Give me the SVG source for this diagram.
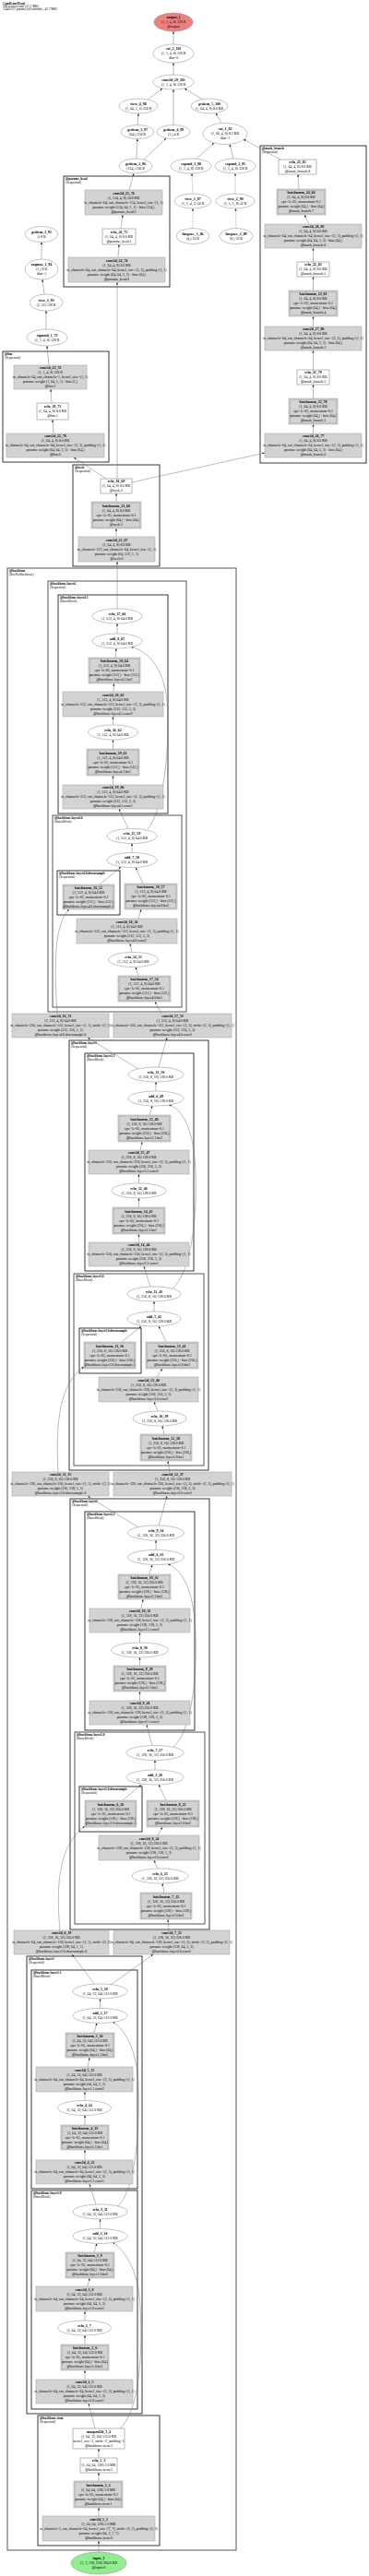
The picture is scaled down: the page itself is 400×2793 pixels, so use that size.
<svg xmlns="http://www.w3.org/2000/svg" width="400" height="2793" viewBox="0 0 400 2793">
<style>
text{font-family:"Liberation Serif","Times New Roman",serif;font-size:3.9px;fill:#000}
.t{text-anchor:middle}
.b{font-weight:bold}
.h{font-size:3.5px}
.el{fill:#fff;stroke:#888;stroke-width:0.5}
.m{fill:#d3d3d3;stroke:#aaa;stroke-width:0.6}
.bn{fill:none;stroke:#aaa;stroke-width:0.6}
.w{fill:#fff;stroke:#888;stroke-width:0.6}
.cl{fill:none;stroke:#222;stroke-width:0.9}
.cg{fill:none;stroke:#555;stroke-width:1}
.e{fill:none;stroke:#666;stroke-width:0.45;marker-end:url(#a)}
.d{stroke-dasharray:1.2,0.9}
</style>
<defs>
<marker id="a" markerUnits="userSpaceOnUse" markerWidth="3" markerHeight="3" refX="2.6" refY="1.1" orient="auto"><path d="M0,0 L2.6,1.1 L0,2.2 z" fill="#222"/></marker>
</defs>
<rect width="400" height="2793" fill="#fff"/>
<text x="3" y="4.5" class="h b">CondLaneHead</text>
<text x="3" y="7.9" class="h">388 tensors total (21.1 MB)</text>
<text x="3" y="11.3" class="h">11465317 params (all trainable, 43.7 MB)</text>

<g id="clusters">
<rect class="cl" x="69" y="191" width="115" height="120"/><text x="71" y="194.8" class="h b">@params_head</text><text x="71" y="198.6" class="h">(Sequential)</text>
<rect class="cl" x="3" y="381" width="115" height="120"/><text x="5" y="384.8" class="h b">@hm</text><text x="5" y="388.6" class="h">(Sequential)</text>
<rect class="cl" x="282" y="158" width="115" height="344"/><text x="284" y="161.8" class="h b">@mask_branch</text><text x="284" y="165.6" class="h">(Sequential)</text>
<rect class="cl" x="79" y="504" width="94" height="110"/><text x="81" y="507.8" class="h b">@neck</text><text x="81" y="511.6" class="h">(Sequential)</text>
<rect class="cg" x="8" y="616" width="248" height="2149"/><text x="10" y="619.8" class="h b">@backbone</text><text x="10" y="623.6" class="h">(ResNetBackbone)</text>
<rect class="cg" x="52" y="630" width="150" height="467"/><text x="54" y="633.8" class="h b">@backbone.layer4</text><text x="54" y="637.6" class="h">(Sequential)</text>
<rect class="cl" x="63" y="645" width="119" height="237"/><text x="65" y="648.8" class="h b">@backbone.layer4.1</text><text x="65" y="652.6" class="h">(BasicBlock)</text>
<rect class="cg" x="57" y="884" width="140" height="208"/><text x="59" y="887.8" class="h b">@backbone.layer4.0</text><text x="59" y="891.6" class="h">(BasicBlock)</text>
<rect class="cl" x="62" y="944" width="68" height="48"/><text x="64" y="947.8" class="h b">@backbone.layer4.0.downsample</text><text x="64" y="951.6" class="h">(Sequential)</text>
<rect class="cl" x="75" y="1128" width="151" height="466"/><text x="77" y="1131.8" class="h b">@backbone.layer3</text><text x="77" y="1135.6" class="h">(Sequential)</text>
<rect class="cl" x="92" y="1142" width="118" height="236"/><text x="94" y="1145.8" class="h b">@backbone.layer3.1</text><text x="94" y="1149.6" class="h">(BasicBlock)</text>
<rect class="cg" x="80" y="1381" width="141" height="208"/><text x="82" y="1384.8" class="h b">@backbone.layer3.0</text><text x="82" y="1388.6" class="h">(BasicBlock)</text>
<rect class="cl" x="86" y="1440" width="67" height="49"/><text x="88" y="1443.8" class="h b">@backbone.layer3.0.downsample</text><text x="88" y="1447.6" class="h">(Sequential)</text>
<rect class="cl" x="76" y="1625" width="151" height="467"/><text x="78" y="1628.8" class="h b">@backbone.layer2</text><text x="78" y="1632.6" class="h">(Sequential)</text>
<rect class="cl" x="92" y="1639" width="119" height="237"/><text x="94" y="1642.8" class="h b">@backbone.layer2.1</text><text x="94" y="1646.6" class="h">(BasicBlock)</text>
<rect class="cg" x="81" y="1878" width="141" height="208"/><text x="83" y="1881.8" class="h b">@backbone.layer2.0</text><text x="83" y="1885.6" class="h">(BasicBlock)</text>
<rect class="cl" x="86" y="1937" width="68" height="49"/><text x="88" y="1940.8" class="h b">@backbone.layer2.0.downsample</text><text x="88" y="1944.6" class="h">(Sequential)</text>
<rect class="cl" x="29" y="2121" width="125" height="496"/><text x="31" y="2124.8" class="h b">@backbone.layer1</text><text x="31" y="2128.6" class="h">(Sequential)</text>
<rect class="cl" x="34" y="2136" width="115" height="237"/><text x="36" y="2139.8" class="h b">@backbone.layer1.1</text><text x="36" y="2143.6" class="h">(BasicBlock)</text>
<rect class="cl" x="34" y="2375" width="115" height="237"/><text x="36" y="2378.8" class="h b">@backbone.layer1.0</text><text x="36" y="2382.6" class="h">(BasicBlock)</text>
<rect class="cl" x="41" y="2619" width="132" height="141"/><text x="43" y="2622.8" class="h b">@backbone.stem</text><text x="43" y="2626.6" class="h">(Sequential)</text>
</g>

<g id="edges">
<path class="e" d="M107,2767 L107,2755"/>
<path class="e" d="M107,2728 L107,2719"/>
<path class="e" d="M107,2690 L107,2681"/>
<path class="e" d="M107,2665 L107,2655"/>
<path class="e" d="M103,2633 L96,2606"/>
<path class="e" d="M130,2633 C150,2615 155,2560 152,2500 C150,2460 135,2440 122,2431"/>
<path class="e" d="M92,2580 L92,2570"/>
<path class="e" d="M92,2542 L92,2532"/>
<path class="e" d="M92,2516 L92,2506"/>
<path class="e" d="M95,2479 L97,2470"/>
<path class="e" d="M102,2442 L105,2432.5"/>
<path class="e" d="M108.5,2416.5 L108.5,2406"/>
<path class="e" d="M104,2390 L97,2368"/>
<path class="e" d="M128,2392 C145,2375 152,2320 150,2260 C148,2220 135,2200 122,2192"/>
<path class="e" d="M92,2342 L92,2331"/>
<path class="e" d="M92,2304 L92,2293.5"/>
<path class="e" d="M92,2277.5 L92,2268"/>
<path class="e" d="M95,2241 L97,2231"/>
<path class="e" d="M102,2204 L105,2193.5"/>
<path class="e" d="M108.5,2177.5 L108.5,2167"/>
<path class="e" d="M102,2151 L78,2119"/>
<path class="e" d="M120,2152 L166,2119"/>
<path class="e" d="M65,2093 C60,2040 65,2000 92,1980"/>
<path class="e" d="M183,2093 L182,2081"/>
<path class="e" d="M178,2052 L176,2042"/>
<path class="e" d="M171,2026 L167,2017"/>
<path class="e" d="M171,1990 L176,1981"/>
<path class="e" d="M180,1952 L172,1935"/>
<path class="e" d="M133,1952 L153,1935"/>
<path class="e" d="M168,1919 L168,1908.5"/>
<path class="e" d="M165,1892.5 L159,1870"/>
<path class="e" d="M188,1894 C205,1880 214,1830 212,1770 C210,1720 195,1700 182,1696"/>
<path class="e" d="M151.5,1844 L151.5,1834"/>
<path class="e" d="M151.5,1806 L151.5,1797"/>
<path class="e" d="M151.5,1781 L151.5,1770"/>
<path class="e" d="M153,1744 L155,1734"/>
<path class="e" d="M162,1707 L165,1696.5"/>
<path class="e" d="M169,1680.5 L169,1670"/>
<path class="e" d="M150,1656 L95,1622"/>
<path class="e" d="M172,1654 L181,1622"/>
<path class="e" d="M63,1596 C60,1540 65,1500 91,1482"/>
<path class="e" d="M184,1596 L182,1584"/>
<path class="e" d="M178,1555 L176,1546"/>
<path class="e" d="M171,1530 L167,1520"/>
<path class="e" d="M170,1493 L176,1484"/>
<path class="e" d="M180,1455 L172,1438"/>
<path class="e" d="M132,1455 L153,1438"/>
<path class="e" d="M167,1422 L167,1411"/>
<path class="e" d="M163,1395 L156,1373"/>
<path class="e" d="M187,1397 C205,1382 214,1330 212,1270 C210,1220 196,1202 183,1198"/>
<path class="e" d="M150.5,1347 L150.5,1338"/>
<path class="e" d="M150.5,1309 L150.5,1299"/>
<path class="e" d="M150.5,1283 L150.5,1273"/>
<path class="e" d="M152,1247 L154,1238"/>
<path class="e" d="M162,1209 L165,1199"/>
<path class="e" d="M169,1183 L169,1173"/>
<path class="e" d="M150,1159 L95,1125"/>
<path class="e" d="M172,1157 L181,1125"/>
<path class="e" d="M62,1099 C58,1040 60,1000 75,986"/>
<path class="e" d="M175,1099 L168,1086"/>
<path class="e" d="M150,1058 L147,1048.5"/>
<path class="e" d="M143,1032.5 L141,1023"/>
<path class="e" d="M150,996 L153,986"/>
<path class="e" d="M155,958 L147,940.5"/>
<path class="e" d="M108,959 L131,940"/>
<path class="e" d="M143,924.5 L143,914.5"/>
<path class="e" d="M139,898.5 L129,877"/>
<path class="e" d="M160,899 C178,880 185,800 181,760 C178,725 160,705 142,701.5"/>
<path class="e" d="M122.5,851 L122.5,841"/>
<path class="e" d="M122.5,812 L122.5,802"/>
<path class="e" d="M122.5,786 L122.5,777"/>
<path class="e" d="M123,750 L123.5,741"/>
<path class="e" d="M125,713 L126,703"/>
<path class="e" d="M127,687 L127,676"/>
<path class="e" d="M127,660 L127,609"/>
<path class="e" d="M126,582 L126,573"/>
<path class="e" d="M126,544 L126,535"/>
<path class="e" d="M115,519 L80,496"/>
<path class="e" d="M127,519 L127,306"/>
<path class="e" d="M143,523 L287,491"/>
<path class="e" d="M58,470 L57,455"/>
<path class="e" d="M56,437 L55,422"/>
<path class="e" d="M53,396 L51,375"/>
<path class="e" d="M50,357 L50,337"/>
<path class="e" d="M48,319 L46,303"/>
<path class="e" d="M45,281 L45,262.5"/>
<path class="e" d="M128,279 L129,265"/>
<path class="e" d="M131,248 L133,233"/>
<path class="e" d="M140,206 L145,188"/>
<path class="e" d="M148,172 L149,150.5"/>
<path class="e" d="M156,173 L180,150"/>
<path class="e" d="M149,135.5 L150,123"/>
<path class="e" d="M160,108 L176,96"/>
<path class="e" d="M188,135.5 L188,97"/>
<path class="e" d="M220,108 L200,96"/>
<path class="e" d="M240,133.5 L234,122.5"/>
<path class="e" d="M188,81 L188,68"/>
<path class="e" d="M188,48 L188,34"/>
<path class="e" d="M213,172 L232,155"/>
<path class="e" d="M253,172 L249,156.5"/>
<path class="e" d="M304,173 L264,151"/>
<path class="e d" d="M209,210 L208,188"/>
<path class="e d" d="M255,210 L255,188"/>
<path class="e d" d="M209,247.5 L209,226"/>
<path class="e d" d="M256,247.5 L255.5,226"/>
<path class="e" d="M339.5,470 L339.5,460"/>
<path class="e" d="M339.5,432 L339.5,417"/>
<path class="e" d="M339.5,401 L339.5,380"/>
<path class="e" d="M339.5,354 L339.5,343"/>
<path class="e" d="M339.5,315 L339.5,300"/>
<path class="e" d="M339.5,284 L339.5,269"/>
<path class="e" d="M335,243 L330,233"/>
<path class="e" d="M324,205 L323,189"/>
</g>

<g id="output_1"><ellipse cx="188" cy="24" rx="21" ry="10" fill="#f08080" stroke="#888" stroke-width="0.5"/><text class="t" x="188" y="20.3"><tspan class="b">output_1</tspan><tspan x="188" dy="5">(1, 1, 4, 8) 128 B</tspan><tspan x="188" dy="5">@output</tspan></text></g>
<g id="cat_2_102"><ellipse class="el" cx="188" cy="58" rx="22" ry="10"/><text class="t" x="188" y="54.3"><tspan class="b">cat_2_102</tspan><tspan x="188" dy="5">(1, 1, 4, 8) 128 B</tspan><tspan x="188" dy="5">dim=0</tspan></text></g>
<g id="conv2d_29_101"><ellipse class="el" cx="188" cy="89" rx="22" ry="8"/><text class="t" x="188" y="87.8"><tspan class="b">conv2d_29_101</tspan><tspan x="188" dy="5">(1, 1, 4, 8) 128 B</tspan></text></g>
<g id="view_4_98"><ellipse class="el" cx="150" cy="115" rx="21" ry="8"/><text class="t" x="150" y="113.8"><tspan class="b">view_4_98</tspan><tspan x="150" dy="5">(1, 64, 1, 1) 256 B</tspan></text></g>
<g id="getitem_5_100"><ellipse class="el" cx="227" cy="115" rx="20" ry="8"/><text class="t" x="227" y="113.8"><tspan class="b">getitem_5_100</tspan><tspan x="227" dy="5">(1, 64, 4, 8) 8.0 KB</tspan></text></g>
<g id="getitem_3_97"><ellipse class="el" cx="149" cy="143" rx="18" ry="7.5"/><text class="t" x="149" y="141.8"><tspan class="b">getitem_3_97</tspan><tspan x="149" dy="5">(64,) 256 B</tspan></text></g>
<g id="getitem_4_99"><ellipse class="el" cx="188" cy="143" rx="18" ry="7.5"/><text class="t" x="188" y="141.8"><tspan class="b">getitem_4_99</tspan><tspan x="188" dy="5">(1,) 4 B</tspan></text></g>
<g id="cat_1_92"><ellipse class="el" cx="244" cy="145" rx="24" ry="11.5"/><text class="t" x="244" y="141.3"><tspan class="b">cat_1_92</tspan><tspan x="244" dy="5">(1, 66, 4, 8) 8.2 KB</tspan><tspan x="244" dy="5">dim=1</tspan></text></g>
<g id="getitem_2_96"><ellipse class="el" cx="147" cy="180" rx="18" ry="8"/><text class="t" x="147" y="178.8"><tspan class="b">getitem_2_96</tspan><tspan x="147" dy="5">(134,) 536 B</tspan></text></g>
<g id="expand_1_88"><ellipse class="el" cx="207" cy="180" rx="22" ry="8"/><text class="t" x="207" y="178.8"><tspan class="b">expand_1_88</tspan><tspan x="207" dy="5">(1, 1, 4, 8) 128 B</tspan></text></g>
<g id="expand_2_91"><ellipse class="el" cx="255" cy="180" rx="22" ry="8"/><text class="t" x="255" y="178.8"><tspan class="b">expand_2_91</tspan><tspan x="255" dy="5">(1, 1, 4, 8) 128 B</tspan></text></g>
<g id="view_1_87"><ellipse class="el" cx="209" cy="218" rx="20" ry="8"/><text class="t" x="209" y="216.8"><tspan class="b">view_1_87</tspan><tspan x="209" dy="5">(1, 1, 4, 1) 16 B</tspan></text></g>
<g id="view_2_90"><ellipse class="el" cx="255" cy="218" rx="21" ry="8"/><text class="t" x="255" y="216.8"><tspan class="b">view_2_90</tspan><tspan x="255" dy="5">(1, 1, 1, 8) 32 B</tspan></text></g>
<g id="linspace_1_86"><ellipse class="el" cx="209" cy="256" rx="18" ry="8.5"/><text class="t" x="209" y="254.8"><tspan class="b">linspace_1_86</tspan><tspan x="209" dy="5">(4,) 16 B</tspan></text></g>
<g id="linspace_2_89"><ellipse class="el" cx="256" cy="256" rx="18" ry="8.5"/><text class="t" x="256" y="254.8"><tspan class="b">linspace_2_89</tspan><tspan x="256" dy="5">(8,) 32 B</tspan></text></g>
<g id="getitem_1_95"><ellipse class="el" cx="45" cy="254" rx="18" ry="8.5"/><text class="t" x="45" y="252.8"><tspan class="b">getitem_1_95</tspan><tspan x="45" dy="5">() 8 B</tspan></text></g>
<g id="argmax_1_94"><ellipse class="el" cx="45" cy="292" rx="18" ry="11"/><text class="t" x="45" y="288.3"><tspan class="b">argmax_1_94</tspan><tspan x="45" dy="5">(1,) 8 B</tspan><tspan x="45" dy="5">dim=1</tspan></text></g>
<g id="view_3_93"><ellipse class="el" cx="50" cy="328" rx="18" ry="9"/><text class="t" x="50" y="326.8"><tspan class="b">view_3_93</tspan><tspan x="50" dy="5">(1, 32) 128 B</tspan></text></g>
<g id="sigmoid_1_73"><ellipse class="el" cx="51" cy="366" rx="22" ry="9"/><text class="t" x="51" y="364.8"><tspan class="b">sigmoid_1_73</tspan><tspan x="51" dy="5">(1, 1, 4, 8) 128 B</tspan></text></g>

<g id="conv2d_25_76"><rect class="m" x="92" y="206" width="84" height="27"/><text class="t" x="134" y="210.8"><tspan class="b">conv2d_25_76</tspan><tspan x="134" dy="5">(1, 134, 4, 8) 16.8 KB</tspan><tspan x="134" dy="5">in_channels=64, out_channels=134, kernel_size=(1, 1)</tspan><tspan x="134" dy="5">params: weight (134, 64, 1, 1) · bias (134,)</tspan><tspan x="134" dy="5">@params_head.2</tspan></text></g>
<g id="relu_20_75"><rect class="w" x="111" y="248" width="36" height="17"/><text class="t" x="129" y="252.8"><tspan class="b">relu_20_75</tspan><tspan x="129" dy="5">(1, 64, 4, 8) 8.0 KB</tspan><tspan x="129" dy="5">@params_head.1</tspan></text></g>
<g id="conv2d_24_74"><rect class="m" x="74" y="279" width="105" height="27"/><text class="t" x="126.5" y="283.8"><tspan class="b">conv2d_24_74</tspan><tspan x="126.5" dy="5">(1, 64, 4, 8) 8.0 KB</tspan><tspan x="126.5" dy="5">in_channels=64, out_channels=64, kernel_size=(3, 3), padding=(1, 1)</tspan><tspan x="126.5" dy="5">params: weight (64, 64, 3, 3) · bias (64,)</tspan><tspan x="126.5" dy="5">@params_head.0</tspan></text></g>

<g id="conv2d_23_72"><rect class="m" x="15" y="396" width="79" height="26"/><text class="t" x="54.5" y="400.3"><tspan class="b">conv2d_23_72</tspan><tspan x="54.5" dy="5">(1, 1, 4, 8) 128 B</tspan><tspan x="54.5" dy="5">in_channels=64, out_channels=1, kernel_size=(1, 1)</tspan><tspan x="54.5" dy="5">params: weight (1, 64, 1, 1) · bias (1,)</tspan><tspan x="54.5" dy="5">@hm.2</tspan></text></g>
<g id="relu_19_71"><rect class="w" x="40" y="437" width="34" height="18"/><text class="t" x="57" y="442.3"><tspan class="b">relu_19_71</tspan><tspan x="57" dy="5">(1, 64, 4, 8) 8.0 KB</tspan><tspan x="57" dy="5">@hm.1</tspan></text></g>
<g id="conv2d_22_70"><rect class="m" x="7" y="470" width="106" height="26"/><text class="t" x="60" y="474.3"><tspan class="b">conv2d_22_70</tspan><tspan x="60" dy="5">(1, 64, 4, 8) 8.0 KB</tspan><tspan x="60" dy="5">in_channels=64, out_channels=64, kernel_size=(3, 3), padding=(1, 1)</tspan><tspan x="60" dy="5">params: weight (64, 64, 3, 3) · bias (64,)</tspan><tspan x="60" dy="5">@hm.0</tspan></text></g>

<g id="relu_23_85"><rect class="w" x="302" y="173" width="41" height="16"/><text class="t" x="322.5" y="177.3"><tspan class="b">relu_23_85</tspan><tspan x="322.5" dy="5">(1, 64, 4, 8) 8.0 KB</tspan><tspan x="322.5" dy="5">@mask_branch.8</tspan></text></g>
<g id="batchnorm_24_84"><rect class="m" x="300" y="205" width="53" height="28"/><rect class="bn" x="301.2" y="206.2" width="50.6" height="25.6"/><text class="t" x="326.5" y="210.3"><tspan class="b">batchnorm_24_84</tspan><tspan x="326.5" dy="5">(1, 64, 4, 8) 8.0 KB</tspan><tspan x="326.5" dy="5">eps=1e-05, momentum=0.1</tspan><tspan x="326.5" dy="5">params: weight (64,) · bias (64,)</tspan><tspan x="326.5" dy="5">@mask_branch.7</tspan></text></g>
<g id="conv2d_28_83"><rect class="m" x="287" y="243" width="105" height="26"/><text class="t" x="339.5" y="247.3"><tspan class="b">conv2d_28_83</tspan><tspan x="339.5" dy="5">(1, 64, 4, 8) 8.0 KB</tspan><tspan x="339.5" dy="5">in_channels=64, out_channels=64, kernel_size=(3, 3), padding=(1, 1)</tspan><tspan x="339.5" dy="5">params: weight (64, 64, 3, 3) · bias (64,)</tspan><tspan x="339.5" dy="5">@mask_branch.6</tspan></text></g>
<g id="relu_22_82"><rect class="w" x="322" y="284" width="35" height="16"/><text class="t" x="339.5" y="288.3"><tspan class="b">relu_22_82</tspan><tspan x="339.5" dy="5">(1, 64, 4, 8) 8.0 KB</tspan><tspan x="339.5" dy="5">@mask_branch.5</tspan></text></g>
<g id="batchnorm_23_81"><rect class="m" x="313" y="315" width="53" height="28"/><rect class="bn" x="314.2" y="316.2" width="50.6" height="25.6"/><text class="t" x="339.5" y="320.3"><tspan class="b">batchnorm_23_81</tspan><tspan x="339.5" dy="5">(1, 64, 4, 8) 8.0 KB</tspan><tspan x="339.5" dy="5">eps=1e-05, momentum=0.1</tspan><tspan x="339.5" dy="5">params: weight (64,) · bias (64,)</tspan><tspan x="339.5" dy="5">@mask_branch.4</tspan></text></g>
<g id="conv2d_27_80"><rect class="m" x="287" y="354" width="105" height="26"/><text class="t" x="339.5" y="358.3"><tspan class="b">conv2d_27_80</tspan><tspan x="339.5" dy="5">(1, 64, 4, 8) 8.0 KB</tspan><tspan x="339.5" dy="5">in_channels=64, out_channels=64, kernel_size=(3, 3), padding=(1, 1)</tspan><tspan x="339.5" dy="5">params: weight (64, 64, 3, 3) · bias (64,)</tspan><tspan x="339.5" dy="5">@mask_branch.3</tspan></text></g>
<g id="relu_21_79"><rect class="w" x="322" y="401" width="35" height="16"/><text class="t" x="339.5" y="405.3"><tspan class="b">relu_21_79</tspan><tspan x="339.5" dy="5">(1, 64, 4, 8) 8.0 KB</tspan><tspan x="339.5" dy="5">@mask_branch.2</tspan></text></g>
<g id="batchnorm_22_78"><rect class="m" x="313" y="432" width="53" height="28"/><rect class="bn" x="314.2" y="433.2" width="50.6" height="25.6"/><text class="t" x="339.5" y="437.3"><tspan class="b">batchnorm_22_78</tspan><tspan x="339.5" dy="5">(1, 64, 4, 8) 8.0 KB</tspan><tspan x="339.5" dy="5">eps=1e-05, momentum=0.1</tspan><tspan x="339.5" dy="5">params: weight (64,) · bias (64,)</tspan><tspan x="339.5" dy="5">@mask_branch.1</tspan></text></g>
<g id="conv2d_26_77"><rect class="m" x="287" y="470" width="105" height="26"/><text class="t" x="339.5" y="474.3"><tspan class="b">conv2d_26_77</tspan><tspan x="339.5" dy="5">(1, 64, 4, 8) 8.0 KB</tspan><tspan x="339.5" dy="5">in_channels=64, out_channels=64, kernel_size=(3, 3), padding=(1, 1)</tspan><tspan x="339.5" dy="5">params: weight (64, 64, 3, 3) · bias (64,)</tspan><tspan x="339.5" dy="5">@mask_branch.0</tspan></text></g>

<g id="relu_18_69"><rect class="w" x="109" y="519" width="34" height="16"/><text class="t" x="126" y="523.3"><tspan class="b">relu_18_69</tspan><tspan x="126" dy="5">(1, 64, 4, 8) 8.0 KB</tspan><tspan x="126" dy="5">@neck.2</tspan></text></g>
<g id="batchnorm_21_68"><rect class="m" x="99" y="544" width="54" height="29"/><rect class="bn" x="100.2" y="545.2" width="51.6" height="26.6"/><text class="t" x="126" y="549.8"><tspan class="b">batchnorm_21_68</tspan><tspan x="126" dy="5">(1, 64, 4, 8) 8.0 KB</tspan><tspan x="126" dy="5">eps=1e-05, momentum=0.1</tspan><tspan x="126" dy="5">params: weight (64,) · bias (64,)</tspan><tspan x="126" dy="5">@neck.1</tspan></text></g>
<g id="conv2d_21_67"><rect class="m" x="85" y="582" width="83" height="27"/><text class="t" x="126.5" y="586.8"><tspan class="b">conv2d_21_67</tspan><tspan x="126.5" dy="5">(1, 64, 4, 8) 8.0 KB</tspan><tspan x="126.5" dy="5">in_channels=512, out_channels=64, kernel_size=(1, 1)</tspan><tspan x="126.5" dy="5">params: weight (64, 512, 1, 1)</tspan><tspan x="126.5" dy="5">@neck.0</tspan></text></g>

<g id="relu_17_66"><ellipse class="el" cx="127" cy="668" rx="27" ry="8"/><text class="t" x="127" y="666.8"><tspan class="b">relu_17_66</tspan><tspan x="127" dy="5">(1, 512, 4, 8) 64.0 KB</tspan></text></g>
<g id="add_8_65"><ellipse class="el" cx="127" cy="695" rx="27" ry="8"/><text class="t" x="127" y="693.8"><tspan class="b">add_8_65</tspan><tspan x="127" dy="5">(1, 512, 4, 8) 64.0 KB</tspan></text></g>
<g id="batchnorm_20_64"><rect class="m" x="96" y="713" width="56" height="28"/><rect class="bn" x="97.2" y="714.2" width="53.6" height="25.6"/><text class="t" x="124" y="718.3"><tspan class="b">batchnorm_20_64</tspan><tspan x="124" dy="5">(1, 512, 4, 8) 64.0 KB</tspan><tspan x="124" dy="5">eps=1e-05, momentum=0.1</tspan><tspan x="124" dy="5">params: weight (512,) · bias (512,)</tspan><tspan x="124" dy="5">@backbone.layer4.1.bn2</tspan></text></g>
<g id="conv2d_20_63"><rect class="m" x="68" y="750" width="109" height="27"/><text class="t" x="122.5" y="754.8"><tspan class="b">conv2d_20_63</tspan><tspan x="122.5" dy="5">(1, 512, 4, 8) 64.0 KB</tspan><tspan x="122.5" dy="5">in_channels=512, out_channels=512, kernel_size=(3, 3), padding=(1, 1)</tspan><tspan x="122.5" dy="5">params: weight (512, 512, 3, 3)</tspan><tspan x="122.5" dy="5">@backbone.layer4.1.conv2</tspan></text></g>
<g id="relu_16_62"><ellipse class="el" cx="122.5" cy="794" rx="27" ry="8"/><text class="t" x="122.5" y="792.8"><tspan class="b">relu_16_62</tspan><tspan x="122.5" dy="5">(1, 512, 4, 8) 64.0 KB</tspan></text></g>
<g id="batchnorm_19_61"><rect class="m" x="94" y="812" width="57" height="29"/><rect class="bn" x="95.2" y="813.2" width="54.6" height="26.6"/><text class="t" x="122.5" y="817.8"><tspan class="b">batchnorm_19_61</tspan><tspan x="122.5" dy="5">(1, 512, 4, 8) 64.0 KB</tspan><tspan x="122.5" dy="5">eps=1e-05, momentum=0.1</tspan><tspan x="122.5" dy="5">params: weight (512,) · bias (512,)</tspan><tspan x="122.5" dy="5">@backbone.layer4.1.bn1</tspan></text></g>
<g id="conv2d_19_60"><rect class="m" x="68" y="851" width="109" height="26"/><text class="t" x="122.5" y="855.3"><tspan class="b">conv2d_19_60</tspan><tspan x="122.5" dy="5">(1, 512, 4, 8) 64.0 KB</tspan><tspan x="122.5" dy="5">in_channels=512, out_channels=512, kernel_size=(3, 3), padding=(1, 1)</tspan><tspan x="122.5" dy="5">params: weight (512, 512, 3, 3)</tspan><tspan x="122.5" dy="5">@backbone.layer4.1.conv1</tspan></text></g>
<g id="relu_15_59"><ellipse class="el" cx="143" cy="906.5" rx="27" ry="8"/><text class="t" x="143" y="905.3"><tspan class="b">relu_15_59</tspan><tspan x="143" dy="5">(1, 512, 4, 8) 64.0 KB</tspan></text></g>
<g id="add_7_58"><ellipse class="el" cx="143" cy="932.5" rx="27" ry="8"/><text class="t" x="143" y="931.3"><tspan class="b">add_7_58</tspan><tspan x="143" dy="5">(1, 512, 4, 8) 64.0 KB</tspan></text></g>
<g id="batchnorm_16_52"><rect class="m" x="68" y="959" width="56" height="27"/><rect class="bn" x="69.2" y="960.2" width="53.6" height="24.6"/><text class="t" x="96" y="963.8"><tspan class="b">batchnorm_16_52</tspan><tspan x="96" dy="5">(1, 512, 4, 8) 64.0 KB</tspan><tspan x="96" dy="5">eps=1e-05, momentum=0.1</tspan><tspan x="96" dy="5">params: weight (512,) · bias (512,)</tspan><tspan x="96" dy="5">@backbone.layer4.0.downsample.1</tspan></text></g>
<g id="batchnorm_18_57"><rect class="m" x="135" y="958" width="57" height="28"/><rect class="bn" x="136.2" y="959.2" width="54.6" height="25.6"/><text class="t" x="163.5" y="963.3"><tspan class="b">batchnorm_18_57</tspan><tspan x="163.5" dy="5">(1, 512, 4, 8) 64.0 KB</tspan><tspan x="163.5" dy="5">eps=1e-05, momentum=0.1</tspan><tspan x="163.5" dy="5">params: weight (512,) · bias (512,)</tspan><tspan x="163.5" dy="5">@backbone.layer4.0.bn2</tspan></text></g>
<g id="conv2d_18_56"><rect class="m" x="83" y="996" width="109" height="27"/><text class="t" x="137.5" y="1000.8"><tspan class="b">conv2d_18_56</tspan><tspan x="137.5" dy="5">(1, 512, 4, 8) 64.0 KB</tspan><tspan x="137.5" dy="5">in_channels=512, out_channels=512, kernel_size=(3, 3), padding=(1, 1)</tspan><tspan x="137.5" dy="5">params: weight (512, 512, 3, 3)</tspan><tspan x="137.5" dy="5">@backbone.layer4.0.conv2</tspan></text></g>
<g id="relu_14_55"><ellipse class="el" cx="144.5" cy="1040.5" rx="27" ry="8"/><text class="t" x="144.5" y="1039.3"><tspan class="b">relu_14_55</tspan><tspan x="144.5" dy="5">(1, 512, 4, 8) 64.0 KB</tspan></text></g>
<g id="batchnorm_17_54"><rect class="m" x="128" y="1058" width="57" height="28"/><rect class="bn" x="129.2" y="1059.2" width="54.6" height="25.6"/><text class="t" x="156.5" y="1063.3"><tspan class="b">batchnorm_17_54</tspan><tspan x="156.5" dy="5">(1, 512, 4, 8) 64.0 KB</tspan><tspan x="156.5" dy="5">eps=1e-05, momentum=0.1</tspan><tspan x="156.5" dy="5">params: weight (512,) · bias (512,)</tspan><tspan x="156.5" dy="5">@backbone.layer4.0.bn1</tspan></text></g>
<g id="conv2d_16_51"><rect class="m" x="13" y="1099" width="105" height="26"/><text class="t" x="65.5" y="1103.3"><tspan class="b">conv2d_16_51</tspan><tspan x="65.5" dy="5">(1, 512, 4, 8) 64.0 KB</tspan><tspan x="65.5" dy="5">in_channels=256, out_channels=512, kernel_size=(1, 1), stride=(2, 2)</tspan><tspan x="65.5" dy="5">params: weight (512, 256, 1, 1)</tspan><tspan x="65.5" dy="5">@backbone.layer4.0.downsample.0</tspan></text></g>
<g id="conv2d_17_53"><rect class="m" x="123" y="1099" width="128" height="26"/><text class="t" x="187" y="1103.3"><tspan class="b">conv2d_17_53</tspan><tspan x="187" dy="5">(1, 512, 4, 8) 64.0 KB</tspan><tspan x="187" dy="5">in_channels=256, out_channels=512, kernel_size=(3, 3), stride=(2, 2), padding=(1, 1)</tspan><tspan x="187" dy="5">params: weight (512, 256, 3, 3)</tspan><tspan x="187" dy="5">@backbone.layer4.0.conv1</tspan></text></g>

<g id="relu_13_50"><ellipse class="el" cx="169" cy="1165" rx="30" ry="8"/><text class="t" x="169" y="1163.8"><tspan class="b">relu_13_50</tspan><tspan x="169" dy="5">(1, 256, 8, 16) 128.0 KB</tspan></text></g>
<g id="add_6_49"><ellipse class="el" cx="169" cy="1191" rx="30" ry="8"/><text class="t" x="169" y="1189.8"><tspan class="b">add_6_49</tspan><tspan x="169" dy="5">(1, 256, 8, 16) 128.0 KB</tspan></text></g>
<g id="batchnorm_15_48"><rect class="m" x="128" y="1209" width="57" height="29"/><rect class="bn" x="129.2" y="1210.2" width="54.6" height="26.6"/><text class="t" x="156.5" y="1214.8"><tspan class="b">batchnorm_15_48</tspan><tspan x="156.5" dy="5">(1, 256, 8, 16) 128.0 KB</tspan><tspan x="156.5" dy="5">eps=1e-05, momentum=0.1</tspan><tspan x="156.5" dy="5">params: weight (256,) · bias (256,)</tspan><tspan x="156.5" dy="5">@backbone.layer3.1.bn2</tspan></text></g>
<g id="conv2d_15_47"><rect class="m" x="96" y="1247" width="109" height="26"/><text class="t" x="150.5" y="1251.3"><tspan class="b">conv2d_15_47</tspan><tspan x="150.5" dy="5">(1, 256, 8, 16) 128.0 KB</tspan><tspan x="150.5" dy="5">in_channels=256, out_channels=256, kernel_size=(3, 3), padding=(1, 1)</tspan><tspan x="150.5" dy="5">params: weight (256, 256, 3, 3)</tspan><tspan x="150.5" dy="5">@backbone.layer3.1.conv2</tspan></text></g>
<g id="relu_12_46"><ellipse class="el" cx="150.5" cy="1291" rx="29.5" ry="8"/><text class="t" x="150.5" y="1289.8"><tspan class="b">relu_12_46</tspan><tspan x="150.5" dy="5">(1, 256, 8, 16) 128.0 KB</tspan></text></g>
<g id="batchnorm_14_45"><rect class="m" x="122" y="1309" width="57" height="29"/><rect class="bn" x="123.2" y="1310.2" width="54.6" height="26.6"/><text class="t" x="150.5" y="1314.8"><tspan class="b">batchnorm_14_45</tspan><tspan x="150.5" dy="5">(1, 256, 8, 16) 128.0 KB</tspan><tspan x="150.5" dy="5">eps=1e-05, momentum=0.1</tspan><tspan x="150.5" dy="5">params: weight (256,) · bias (256,)</tspan><tspan x="150.5" dy="5">@backbone.layer3.1.bn1</tspan></text></g>
<g id="conv2d_14_44"><rect class="m" x="96" y="1347" width="109" height="26"/><text class="t" x="150.5" y="1351.3"><tspan class="b">conv2d_14_44</tspan><tspan x="150.5" dy="5">(1, 256, 8, 16) 128.0 KB</tspan><tspan x="150.5" dy="5">in_channels=256, out_channels=256, kernel_size=(3, 3), padding=(1, 1)</tspan><tspan x="150.5" dy="5">params: weight (256, 256, 3, 3)</tspan><tspan x="150.5" dy="5">@backbone.layer3.1.conv1</tspan></text></g>
<g id="relu_11_43"><ellipse class="el" cx="167" cy="1403" rx="29" ry="8"/><text class="t" x="167" y="1401.8"><tspan class="b">relu_11_43</tspan><tspan x="167" dy="5">(1, 256, 8, 16) 128.0 KB</tspan></text></g>
<g id="add_5_42"><ellipse class="el" cx="167" cy="1430" rx="29" ry="8"/><text class="t" x="167" y="1428.8"><tspan class="b">add_5_42</tspan><tspan x="167" dy="5">(1, 256, 8, 16) 128.0 KB</tspan></text></g>
<g id="batchnorm_11_36"><rect class="m" x="91" y="1455" width="56" height="29"/><rect class="bn" x="92.2" y="1456.2" width="53.6" height="26.6"/><text class="t" x="119" y="1460.8"><tspan class="b">batchnorm_11_36</tspan><tspan x="119" dy="5">(1, 256, 8, 16) 128.0 KB</tspan><tspan x="119" dy="5">eps=1e-05, momentum=0.1</tspan><tspan x="119" dy="5">params: weight (256,) · bias (256,)</tspan><tspan x="119" dy="5">@backbone.layer3.0.downsample.1</tspan></text></g>
<g id="batchnorm_13_41"><rect class="m" x="158" y="1455" width="57" height="29"/><rect class="bn" x="159.2" y="1456.2" width="54.6" height="26.6"/><text class="t" x="186.5" y="1460.8"><tspan class="b">batchnorm_13_41</tspan><tspan x="186.5" dy="5">(1, 256, 8, 16) 128.0 KB</tspan><tspan x="186.5" dy="5">eps=1e-05, momentum=0.1</tspan><tspan x="186.5" dy="5">params: weight (256,) · bias (256,)</tspan><tspan x="186.5" dy="5">@backbone.layer3.0.bn2</tspan></text></g>
<g id="conv2d_13_40"><rect class="m" x="107" y="1493" width="108" height="27"/><text class="t" x="161" y="1497.8"><tspan class="b">conv2d_13_40</tspan><tspan x="161" dy="5">(1, 256, 8, 16) 128.0 KB</tspan><tspan x="161" dy="5">in_channels=256, out_channels=256, kernel_size=(3, 3), padding=(1, 1)</tspan><tspan x="161" dy="5">params: weight (256, 256, 3, 3)</tspan><tspan x="161" dy="5">@backbone.layer3.0.conv2</tspan></text></g>
<g id="relu_10_39"><ellipse class="el" cx="173" cy="1538" rx="29" ry="8"/><text class="t" x="173" y="1536.8"><tspan class="b">relu_10_39</tspan><tspan x="173" dy="5">(1, 256, 8, 16) 128.0 KB</tspan></text></g>
<g id="batchnorm_12_38"><rect class="m" x="152" y="1555" width="56" height="29"/><rect class="bn" x="153.2" y="1556.2" width="53.6" height="26.6"/><text class="t" x="180" y="1560.8"><tspan class="b">batchnorm_12_38</tspan><tspan x="180" dy="5">(1, 256, 8, 16) 128.0 KB</tspan><tspan x="180" dy="5">eps=1e-05, momentum=0.1</tspan><tspan x="180" dy="5">params: weight (256,) · bias (256,)</tspan><tspan x="180" dy="5">@backbone.layer3.0.bn1</tspan></text></g>
<g id="conv2d_11_35"><rect class="m" x="13" y="1596" width="105" height="26"/><text class="t" x="65.5" y="1600.3"><tspan class="b">conv2d_11_35</tspan><tspan x="65.5" dy="5">(1, 256, 8, 16) 128.0 KB</tspan><tspan x="65.5" dy="5">in_channels=128, out_channels=256, kernel_size=(1, 1), stride=(2, 2)</tspan><tspan x="65.5" dy="5">params: weight (256, 128, 1, 1)</tspan><tspan x="65.5" dy="5">@backbone.layer3.0.downsample.0</tspan></text></g>
<g id="conv2d_12_37"><rect class="m" x="123" y="1596" width="128" height="26"/><text class="t" x="187" y="1600.3"><tspan class="b">conv2d_12_37</tspan><tspan x="187" dy="5">(1, 256, 8, 16) 128.0 KB</tspan><tspan x="187" dy="5">in_channels=128, out_channels=256, kernel_size=(3, 3), stride=(2, 2), padding=(1, 1)</tspan><tspan x="187" dy="5">params: weight (256, 128, 3, 3)</tspan><tspan x="187" dy="5">@backbone.layer3.0.conv1</tspan></text></g>

<g id="relu_9_34"><ellipse class="el" cx="169" cy="1662" rx="30.5" ry="8"/><text class="t" x="169" y="1660.8"><tspan class="b">relu_9_34</tspan><tspan x="169" dy="5">(1, 128, 16, 32) 256.0 KB</tspan></text></g>
<g id="add_4_33"><ellipse class="el" cx="169" cy="1688.5" rx="30.5" ry="8"/><text class="t" x="169" y="1687.3"><tspan class="b">add_4_33</tspan><tspan x="169" dy="5">(1, 128, 16, 32) 256.0 KB</tspan></text></g>
<g id="batchnorm_10_32"><rect class="m" x="128" y="1707" width="57" height="27"/><rect class="bn" x="129.2" y="1708.2" width="54.6" height="24.6"/><text class="t" x="156.5" y="1711.8"><tspan class="b">batchnorm_10_32</tspan><tspan x="156.5" dy="5">(1, 128, 16, 32) 256.0 KB</tspan><tspan x="156.5" dy="5">eps=1e-05, momentum=0.1</tspan><tspan x="156.5" dy="5">params: weight (128,) · bias (128,)</tspan><tspan x="156.5" dy="5">@backbone.layer2.1.bn2</tspan></text></g>
<g id="conv2d_10_31"><rect class="m" x="97" y="1744" width="109" height="26"/><text class="t" x="151.5" y="1748.3"><tspan class="b">conv2d_10_31</tspan><tspan x="151.5" dy="5">(1, 128, 16, 32) 256.0 KB</tspan><tspan x="151.5" dy="5">in_channels=128, out_channels=128, kernel_size=(3, 3), padding=(1, 1)</tspan><tspan x="151.5" dy="5">params: weight (128, 128, 3, 3)</tspan><tspan x="151.5" dy="5">@backbone.layer2.1.conv2</tspan></text></g>
<g id="relu_8_30"><ellipse class="el" cx="151.5" cy="1789" rx="31" ry="8"/><text class="t" x="151.5" y="1787.8"><tspan class="b">relu_8_30</tspan><tspan x="151.5" dy="5">(1, 128, 16, 32) 256.0 KB</tspan></text></g>
<g id="batchnorm_9_29"><rect class="m" x="123" y="1806" width="57" height="28"/><rect class="bn" x="124.2" y="1807.2" width="54.6" height="25.6"/><text class="t" x="151.5" y="1811.3"><tspan class="b">batchnorm_9_29</tspan><tspan x="151.5" dy="5">(1, 128, 16, 32) 256.0 KB</tspan><tspan x="151.5" dy="5">eps=1e-05, momentum=0.1</tspan><tspan x="151.5" dy="5">params: weight (128,) · bias (128,)</tspan><tspan x="151.5" dy="5">@backbone.layer2.1.bn1</tspan></text></g>
<g id="conv2d_9_28"><rect class="m" x="97" y="1844" width="109" height="26"/><text class="t" x="151.5" y="1848.3"><tspan class="b">conv2d_9_28</tspan><tspan x="151.5" dy="5">(1, 128, 16, 32) 256.0 KB</tspan><tspan x="151.5" dy="5">in_channels=128, out_channels=128, kernel_size=(3, 3), padding=(1, 1)</tspan><tspan x="151.5" dy="5">params: weight (128, 128, 3, 3)</tspan><tspan x="151.5" dy="5">@backbone.layer2.1.conv1</tspan></text></g>
<g id="relu_7_27"><ellipse class="el" cx="168" cy="1900.5" rx="31" ry="8"/><text class="t" x="168" y="1899.3"><tspan class="b">relu_7_27</tspan><tspan x="168" dy="5">(1, 128, 16, 32) 256.0 KB</tspan></text></g>
<g id="add_3_26"><ellipse class="el" cx="168" cy="1927" rx="31" ry="8"/><text class="t" x="168" y="1925.8"><tspan class="b">add_3_26</tspan><tspan x="168" dy="5">(1, 128, 16, 32) 256.0 KB</tspan></text></g>
<g id="batchnorm_6_20"><rect class="m" x="92" y="1952" width="56" height="29"/><rect class="bn" x="93.2" y="1953.2" width="53.6" height="26.6"/><text class="t" x="120" y="1957.8"><tspan class="b">batchnorm_6_20</tspan><tspan x="120" dy="5">(1, 128, 16, 32) 256.0 KB</tspan><tspan x="120" dy="5">eps=1e-05, momentum=0.1</tspan><tspan x="120" dy="5">params: weight (128,) · bias (128,)</tspan><tspan x="120" dy="5">@backbone.layer2.0.downsample.1</tspan></text></g>
<g id="batchnorm_8_25"><rect class="m" x="159" y="1952" width="57" height="29"/><rect class="bn" x="160.2" y="1953.2" width="54.6" height="26.6"/><text class="t" x="187.5" y="1957.8"><tspan class="b">batchnorm_8_25</tspan><tspan x="187.5" dy="5">(1, 128, 16, 32) 256.0 KB</tspan><tspan x="187.5" dy="5">eps=1e-05, momentum=0.1</tspan><tspan x="187.5" dy="5">params: weight (128,) · bias (128,)</tspan><tspan x="187.5" dy="5">@backbone.layer2.0.bn2</tspan></text></g>
<g id="conv2d_8_24"><rect class="m" x="107" y="1990" width="109" height="27"/><text class="t" x="161.5" y="1994.8"><tspan class="b">conv2d_8_24</tspan><tspan x="161.5" dy="5">(1, 128, 16, 32) 256.0 KB</tspan><tspan x="161.5" dy="5">in_channels=128, out_channels=128, kernel_size=(3, 3), padding=(1, 1)</tspan><tspan x="161.5" dy="5">params: weight (128, 128, 3, 3)</tspan><tspan x="161.5" dy="5">@backbone.layer2.0.conv2</tspan></text></g>
<g id="relu_6_23"><ellipse class="el" cx="173.5" cy="2034" rx="30.5" ry="8"/><text class="t" x="173.5" y="2032.8"><tspan class="b">relu_6_23</tspan><tspan x="173.5" dy="5">(1, 128, 16, 32) 256.0 KB</tspan></text></g>
<g id="batchnorm_7_22"><rect class="m" x="152" y="2052" width="56" height="29"/><rect class="bn" x="153.2" y="2053.2" width="53.6" height="26.6"/><text class="t" x="180" y="2057.8"><tspan class="b">batchnorm_7_22</tspan><tspan x="180" dy="5">(1, 128, 16, 32) 256.0 KB</tspan><tspan x="180" dy="5">eps=1e-05, momentum=0.1</tspan><tspan x="180" dy="5">params: weight (128,) · bias (128,)</tspan><tspan x="180" dy="5">@backbone.layer2.0.bn1</tspan></text></g>
<g id="conv2d_6_19"><rect class="m" x="15" y="2093" width="103" height="26"/><text class="t" x="66.5" y="2097.3"><tspan class="b">conv2d_6_19</tspan><tspan x="66.5" dy="5">(1, 128, 16, 32) 256.0 KB</tspan><tspan x="66.5" dy="5">in_channels=64, out_channels=128, kernel_size=(1, 1), stride=(2, 2)</tspan><tspan x="66.5" dy="5">params: weight (128, 64, 1, 1)</tspan><tspan x="66.5" dy="5">@backbone.layer2.0.downsample.0</tspan></text></g>
<g id="conv2d_7_21"><rect class="m" x="123" y="2093" width="126" height="26"/><text class="t" x="186" y="2097.3"><tspan class="b">conv2d_7_21</tspan><tspan x="186" dy="5">(1, 128, 16, 32) 256.0 KB</tspan><tspan x="186" dy="5">in_channels=64, out_channels=128, kernel_size=(3, 3), stride=(2, 2), padding=(1, 1)</tspan><tspan x="186" dy="5">params: weight (128, 64, 3, 3)</tspan><tspan x="186" dy="5">@backbone.layer2.0.conv1</tspan></text></g>

<g id="relu_5_18"><ellipse class="el" cx="108.5" cy="2159" rx="29.5" ry="8"/><text class="t" x="108.5" y="2157.8"><tspan class="b">relu_5_18</tspan><tspan x="108.5" dy="5">(1, 64, 32, 64) 512.0 KB</tspan></text></g>
<g id="add_2_17"><ellipse class="el" cx="108.5" cy="2185.5" rx="29.5" ry="8"/><text class="t" x="108.5" y="2184.3"><tspan class="b">add_2_17</tspan><tspan x="108.5" dy="5">(1, 64, 32, 64) 512.0 KB</tspan></text></g>
<g id="batchnorm_5_16"><rect class="m" x="71" y="2204" width="53" height="27"/><rect class="bn" x="72.2" y="2205.2" width="50.6" height="24.6"/><text class="t" x="97.5" y="2208.8"><tspan class="b">batchnorm_5_16</tspan><tspan x="97.5" dy="5">(1, 64, 32, 64) 512.0 KB</tspan><tspan x="97.5" dy="5">eps=1e-05, momentum=0.1</tspan><tspan x="97.5" dy="5">params: weight (64,) · bias (64,)</tspan><tspan x="97.5" dy="5">@backbone.layer1.1.bn2</tspan></text></g>
<g id="conv2d_5_15"><rect class="m" x="39" y="2241" width="105" height="27"/><text class="t" x="91.5" y="2245.8"><tspan class="b">conv2d_5_15</tspan><tspan x="91.5" dy="5">(1, 64, 32, 64) 512.0 KB</tspan><tspan x="91.5" dy="5">in_channels=64, out_channels=64, kernel_size=(3, 3), padding=(1, 1)</tspan><tspan x="91.5" dy="5">params: weight (64, 64, 3, 3)</tspan><tspan x="91.5" dy="5">@backbone.layer1.1.conv2</tspan></text></g>
<g id="relu_4_14"><ellipse class="el" cx="91.5" cy="2285.5" rx="29" ry="8"/><text class="t" x="91.5" y="2284.3"><tspan class="b">relu_4_14</tspan><tspan x="91.5" dy="5">(1, 64, 32, 64) 512.0 KB</tspan></text></g>
<g id="batchnorm_4_13"><rect class="m" x="66" y="2304" width="52" height="27"/><rect class="bn" x="67.2" y="2305.2" width="49.6" height="24.6"/><text class="t" x="92" y="2308.8"><tspan class="b">batchnorm_4_13</tspan><tspan x="92" dy="5">(1, 64, 32, 64) 512.0 KB</tspan><tspan x="92" dy="5">eps=1e-05, momentum=0.1</tspan><tspan x="92" dy="5">params: weight (64,) · bias (64,)</tspan><tspan x="92" dy="5">@backbone.layer1.1.bn1</tspan></text></g>
<g id="conv2d_4_12"><rect class="m" x="39" y="2342" width="105" height="26"/><text class="t" x="91.5" y="2346.3"><tspan class="b">conv2d_4_12</tspan><tspan x="91.5" dy="5">(1, 64, 32, 64) 512.0 KB</tspan><tspan x="91.5" dy="5">in_channels=64, out_channels=64, kernel_size=(3, 3), padding=(1, 1)</tspan><tspan x="91.5" dy="5">params: weight (64, 64, 3, 3)</tspan><tspan x="91.5" dy="5">@backbone.layer1.1.conv1</tspan></text></g>
<g id="relu_3_11"><ellipse class="el" cx="108.5" cy="2398" rx="29.5" ry="8"/><text class="t" x="108.5" y="2396.8"><tspan class="b">relu_3_11</tspan><tspan x="108.5" dy="5">(1, 64, 32, 64) 512.0 KB</tspan></text></g>
<g id="add_1_10"><ellipse class="el" cx="108.5" cy="2424.5" rx="29.5" ry="8"/><text class="t" x="108.5" y="2423.3"><tspan class="b">add_1_10</tspan><tspan x="108.5" dy="5">(1, 64, 32, 64) 512.0 KB</tspan></text></g>
<g id="batchnorm_3_9"><rect class="m" x="71" y="2442" width="53" height="28"/><rect class="bn" x="72.2" y="2443.2" width="50.6" height="25.6"/><text class="t" x="97.5" y="2447.3"><tspan class="b">batchnorm_3_9</tspan><tspan x="97.5" dy="5">(1, 64, 32, 64) 512.0 KB</tspan><tspan x="97.5" dy="5">eps=1e-05, momentum=0.1</tspan><tspan x="97.5" dy="5">params: weight (64,) · bias (64,)</tspan><tspan x="97.5" dy="5">@backbone.layer1.0.bn2</tspan></text></g>
<g id="conv2d_3_8"><rect class="m" x="39" y="2479" width="105" height="27"/><text class="t" x="91.5" y="2483.8"><tspan class="b">conv2d_3_8</tspan><tspan x="91.5" dy="5">(1, 64, 32, 64) 512.0 KB</tspan><tspan x="91.5" dy="5">in_channels=64, out_channels=64, kernel_size=(3, 3), padding=(1, 1)</tspan><tspan x="91.5" dy="5">params: weight (64, 64, 3, 3)</tspan><tspan x="91.5" dy="5">@backbone.layer1.0.conv2</tspan></text></g>
<g id="relu_2_7"><ellipse class="el" cx="91.5" cy="2524" rx="29" ry="8"/><text class="t" x="91.5" y="2522.8"><tspan class="b">relu_2_7</tspan><tspan x="91.5" dy="5">(1, 64, 32, 64) 512.0 KB</tspan></text></g>
<g id="batchnorm_2_6"><rect class="m" x="66" y="2542" width="52" height="28"/><rect class="bn" x="67.2" y="2543.2" width="49.6" height="25.6"/><text class="t" x="92" y="2547.3"><tspan class="b">batchnorm_2_6</tspan><tspan x="92" dy="5">(1, 64, 32, 64) 512.0 KB</tspan><tspan x="92" dy="5">eps=1e-05, momentum=0.1</tspan><tspan x="92" dy="5">params: weight (64,) · bias (64,)</tspan><tspan x="92" dy="5">@backbone.layer1.0.bn1</tspan></text></g>
<g id="conv2d_2_5"><rect class="m" x="39" y="2580" width="105" height="26"/><text class="t" x="91.5" y="2584.3"><tspan class="b">conv2d_2_5</tspan><tspan x="91.5" dy="5">(1, 64, 32, 64) 512.0 KB</tspan><tspan x="91.5" dy="5">in_channels=64, out_channels=64, kernel_size=(3, 3), padding=(1, 1)</tspan><tspan x="91.5" dy="5">params: weight (64, 64, 3, 3)</tspan><tspan x="91.5" dy="5">@backbone.layer1.0.conv1</tspan></text></g>

<g id="maxpool2d_1_4"><rect class="w" x="79" y="2633" width="56" height="22"/><text class="t" x="107" y="2637.8"><tspan class="b">maxpool2d_1_4</tspan><tspan x="107" dy="5">(1, 64, 32, 64) 512.0 KB</tspan><tspan x="107" dy="5">kernel_size=3, stride=2, padding=1</tspan><tspan x="107" dy="5">@backbone.stem.3</tspan></text></g>
<g id="relu_1_3"><rect class="w" x="87" y="2665" width="40" height="16"/><text class="t" x="107" y="2669.3"><tspan class="b">relu_1_3</tspan><tspan x="107" dy="5">(1, 64, 64, 128) 2.0 MB</tspan><tspan x="107" dy="5">@backbone.stem.2</tspan></text></g>
<g id="batchnorm_1_2"><rect class="m" x="80" y="2690" width="53" height="29"/><rect class="bn" x="81.2" y="2691.2" width="50.6" height="26.6"/><text class="t" x="106.5" y="2695.8"><tspan class="b">batchnorm_1_2</tspan><tspan x="106.5" dy="5">(1, 64, 64, 128) 2.0 MB</tspan><tspan x="106.5" dy="5">eps=1e-05, momentum=0.1</tspan><tspan x="106.5" dy="5">params: weight (64,) · bias (64,)</tspan><tspan x="106.5" dy="5">@backbone.stem.1</tspan></text></g>
<g id="conv2d_1_1"><rect class="m" x="46" y="2728" width="122" height="27"/><text class="t" x="107" y="2732.8"><tspan class="b">conv2d_1_1</tspan><tspan x="107" dy="5">(1, 64, 64, 128) 2.0 MB</tspan><tspan x="107" dy="5">in_channels=3, out_channels=64, kernel_size=(7, 7), stride=(2, 2), padding=(3, 3)</tspan><tspan x="107" dy="5">params: weight (64, 3, 7, 7)</tspan><tspan x="107" dy="5">@backbone.stem.0</tspan></text></g>
<g id="input_1"><ellipse cx="107" cy="2779" rx="30" ry="12" fill="#90ee90" stroke="#888" stroke-width="0.5"/><text class="t" x="107" y="2775.3"><tspan class="b">input_1</tspan><tspan x="107" dy="5">(1, 3, 128, 256) 384.0 KB</tspan><tspan x="107" dy="5">@input.0</tspan></text></g>
</svg>
